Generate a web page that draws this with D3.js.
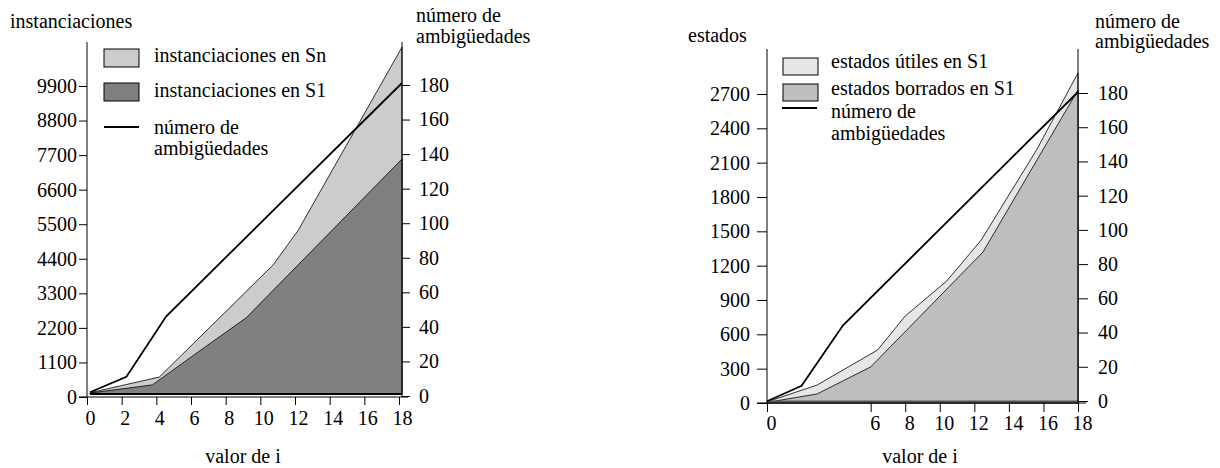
<!DOCTYPE html>
<html><head><meta charset="utf-8">
<script src="https://cdn.jsdelivr.net/npm/d3@7"></script>
<style>
body{margin:0;background:#fff}
svg text{font-family:"Liberation Serif","Times New Roman",serif;font-size:20px;fill:#000}
</style></head><body>
<svg id="c" width="1220" height="468"></svg>
<script>
// ---------- data ----------
// left chart
const leftXTicks = [0, 2, 4, 6, 8, 10, 12, 14, 16, 18];
const instTicks = [0, 1100, 2200, 3300, 4400, 5500, 6600, 7700, 8800, 9900];
const ambTicks = [0, 20, 40, 60, 80, 100, 120, 140, 160, 180];
const snI = [0, 4, 10.55, 12, 18];
const snVals = [40, 540, 4100, 5200, 11040];
const s1I = [0, 3.6, 6.55, 9.0, 18];
const s1Vals = [30, 290, 1460, 2420, 7480];
const ambLI = [0, 2.1, 4.4, 18];
const ambLVals = [1, 10, 45, 180];
// right chart
const rightXTicks = [0, 6, 8, 10, 12, 14, 16, 18];
const estTicks = [0, 300, 600, 900, 1200, 1500, 1800, 2100, 2400, 2700];
const utilI = [0, 2.9, 6.4, 8.0, 10.4, 12.4, 15.6, 18];
const utilVals = [10, 157, 463, 760, 1066, 1424, 2211, 2884];
const borrI = [0, 2.9, 6.0, 12.5, 18];
const borrVals = [5, 79, 315, 1319, 2735];
const ambRI = [0, 2.0, 4.4, 18];
const ambRVals = [1, 10, 45, 180];

const zip = (a, b) => a.map((v, k) => ({i: v, v: b[k]}));
const svg = d3.select("#c");
const fmt = d3.format("d");

function styleAxis(g) {
  g.attr("font-family", null).attr("font-size", null);
  g.select(".domain").remove();
  g.selectAll(".tick line").attr("stroke", "#000").attr("stroke-width", 1);
}

// ================= LEFT CHART =================
{
  const xData = d3.scaleLinear().domain([0, 18]).range([90, 402]);
  const xAx = d3.scaleLinear().domain([0, 18]).range([87, 399]);
  const yData = d3.scaleLinear().domain([0, 9900]).range([394, 83]);
  const yAx = d3.scaleLinear().domain([0, 9900]).range([397, 86]);
  const aData = d3.scaleLinear().domain([0, 180]).range([394, 83]);
  const aAx = d3.scaleLinear().domain([0, 180]).range([396, 85]);
  const g = svg.append("g");

  const area = d3.area().x(d => xData(d.i)).y0(yData(0)).y1(d => yData(d.v));
  g.append("path").datum(zip(snI, snVals)).attr("d", area)
    .attr("fill", "#cccccc").attr("stroke", "#000").attr("stroke-width", 0.8);
  g.append("path").datum(zip(s1I, s1Vals)).attr("d", area)
    .attr("fill", "#808080").attr("stroke", "#000").attr("stroke-width", 0.8);
  g.append("line").attr("x1", xData(0)).attr("x2", xData(18))
    .attr("y1", yData(0)).attr("y2", yData(0)).attr("stroke", "#000").attr("stroke-width", 2);
  const line = d3.line().x(d => xData(d.i)).y(d => aData(d.v));
  g.append("path").datum(zip(ambLI, ambLVals)).attr("d", line)
    .attr("fill", "none").attr("stroke", "#000").attr("stroke-width", 1.8);

  // axes lines
  g.append("line").attr("x1", 87).attr("x2", 87).attr("y1", 42).attr("y2", 397).attr("stroke", "#000");
  g.append("line").attr("x1", 402).attr("x2", 402).attr("y1", 42).attr("y2", 397).attr("stroke", "#000");
  g.append("line").attr("x1", 79).attr("x2", 408).attr("y1", 397).attr("y2", 397).attr("stroke", "#000");

  g.append("g").attr("transform", "translate(87,0)")
    .call(d3.axisLeft(yAx).tickValues(instTicks).tickFormat(fmt).tickSize(8).tickPadding(2).tickSizeOuter(0))
    .call(styleAxis);
  g.append("g").attr("transform", "translate(402,0)")
    .call(d3.axisRight(aAx).tickValues(ambTicks).tickFormat(fmt).tickSize(8).tickPadding(9).tickSizeOuter(0))
    .call(styleAxis);
  g.append("g").attr("transform", "translate(0,397)")
    .call(d3.axisBottom(xAx).tickValues(leftXTicks).tickFormat(fmt).tickSize(8).tickPadding(6).tickSizeOuter(0))
    .call(styleAxis).selectAll(".tick text").attr("dx", 3);

  g.append("text").attr("x", 10).attr("y", 28).text("instanciaciones");
  g.append("text").attr("x", 416).attr("y", 22).text("número de");
  g.append("text").attr("x", 416).attr("y", 43).text("ambigüedades");
  g.append("text").attr("x", 243).attr("y", 463).attr("text-anchor", "middle").text("valor de i");

  // legend
  g.append("rect").attr("x", 104).attr("y", 49).attr("width", 35).attr("height", 18)
    .attr("fill", "#cccccc").attr("stroke", "#000");
  g.append("rect").attr("x", 104).attr("y", 83).attr("width", 35).attr("height", 18)
    .attr("fill", "#808080").attr("stroke", "#000");
  g.append("line").attr("x1", 104).attr("x2", 139).attr("y1", 127).attr("y2", 127)
    .attr("stroke", "#000").attr("stroke-width", 1.8);
  g.append("text").attr("x", 154).attr("y", 62).text("instanciaciones en Sn");
  g.append("text").attr("x", 154).attr("y", 97).text("instanciaciones en S1");
  g.append("text").attr("x", 154).attr("y", 134).text("número de");
  g.append("text").attr("x", 154).attr("y", 155).text("ambigüedades");
}

// ================= RIGHT CHART =================
{
  const x = d3.scaleLinear().domain([0, 18]).range([767, 1078]);
  const y = d3.scaleLinear().domain([0, 2700]).range([403, 94]);
  const aData = d3.scaleLinear().domain([0, 180]).range([403, 92]);
  const aAx = d3.scaleLinear().domain([0, 180]).range([401, 93]);
  const g = svg.append("g");

  const area = d3.area().x(d => x(d.i)).y0(y(0)).y1(d => y(d.v));
  g.append("path").datum(zip(utilI, utilVals)).attr("d", area)
    .attr("fill", "#e6e6e6").attr("stroke", "#000").attr("stroke-width", 0.8);
  g.append("path").datum(zip(borrI, borrVals)).attr("d", area)
    .attr("fill", "#bebebe").attr("stroke", "#000").attr("stroke-width", 0.8);
  g.append("line").attr("x1", x(0)).attr("x2", x(18))
    .attr("y1", y(0) - 1).attr("y2", y(0) - 1).attr("stroke", "#555").attr("stroke-width", 3);
  const line = d3.line().x(d => x(d.i)).y(d => aData(d.v));
  g.append("path").datum(zip(ambRI, ambRVals)).attr("d", line)
    .attr("fill", "none").attr("stroke", "#000").attr("stroke-width", 1.8);

  g.append("line").attr("x1", 767).attr("x2", 767).attr("y1", 49).attr("y2", 403).attr("stroke", "#000");
  g.append("line").attr("x1", 1078).attr("x2", 1078).attr("y1", 49).attr("y2", 403).attr("stroke", "#000");
  g.append("line").attr("x1", 757).attr("x2", 1086).attr("y1", 403).attr("y2", 403).attr("stroke", "#000");

  g.append("g").attr("transform", "translate(767,0)")
    .call(d3.axisLeft(y).tickValues(estTicks).tickFormat(fmt).tickSize(10).tickPadding(7).tickSizeOuter(0))
    .call(styleAxis);
  g.append("g").attr("transform", "translate(1078,0)")
    .call(d3.axisRight(aAx).tickValues(ambTicks).tickFormat(fmt).tickSize(10).tickPadding(10).tickSizeOuter(0))
    .call(styleAxis);
  g.append("g").attr("transform", "translate(0,403)")
    .call(d3.axisBottom(x).tickValues(rightXTicks).tickFormat(fmt).tickSize(9).tickPadding(4).tickSizeOuter(0))
    .call(styleAxis).selectAll(".tick text").attr("dx", 4);

  g.append("text").attr("x", 688).attr("y", 42).text("estados");
  g.append("text").attr("x", 1095).attr("y", 28).text("número de");
  g.append("text").attr("x", 1095).attr("y", 48).text("ambigüedades");
  g.append("text").attr("x", 920).attr("y", 463).attr("text-anchor", "middle").text("valor de i");

  g.append("rect").attr("x", 783).attr("y", 58).attr("width", 35).attr("height", 17)
    .attr("fill", "#e6e6e6").attr("stroke", "#000");
  g.append("rect").attr("x", 783).attr("y", 84).attr("width", 35).attr("height", 17)
    .attr("fill", "#bebebe").attr("stroke", "#000");
  g.append("line").attr("x1", 782).attr("x2", 817).attr("y1", 108).attr("y2", 108)
    .attr("stroke", "#000").attr("stroke-width", 1.8);
  g.append("text").attr("x", 831).attr("y", 68).text("estados útiles en S1");
  g.append("text").attr("x", 831).attr("y", 95).text("estados borrados en S1");
  g.append("text").attr("x", 831).attr("y", 118).text("número de");
  g.append("text").attr("x", 831).attr("y", 140).text("ambigüedades");
}
</script>
</body></html>
